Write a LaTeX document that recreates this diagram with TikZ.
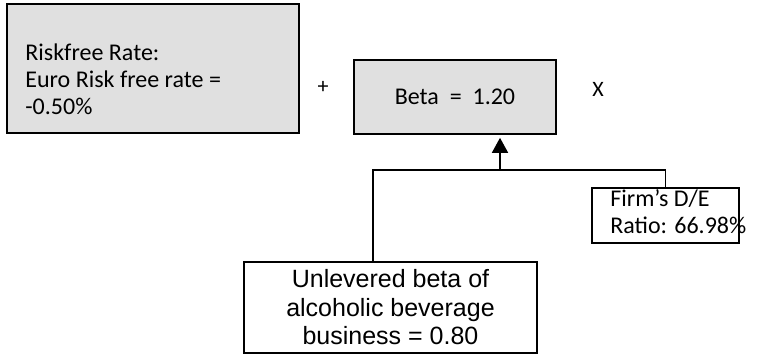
\documentclass[tikz,border=0pt]{standalone}
\usepackage{fontspec}
\setmainfont{Carlito}
\newfontfamily\arialfont{Liberation Sans}
\usetikzlibrary{arrows.meta}
\usetikzlibrary{positioning}
\definecolor{boxgray}{RGB}{224,224,224}
\tikzset{greybox/.style = {draw, fill=boxgray, line width=1.6pt, inner sep=0pt},
         whitebox/.style = {draw, fill=white, line width=1.6pt, inner sep=0pt},
         calibritext/.style = {font=\fontsize{24}{27}\selectfont, align=left, inner sep=0pt},
         optext/.style = {font=\fontsize{22}{24}\selectfont, inner sep=0pt},
         link/.style = {line width=1.5pt}}

\begin{document}
\begin{tikzpicture}[x=1pt, y=-1pt]
      \useasboundingbox (0, 0) rectangle (761, 361);

      \node [greybox, minimum width=292pt, minimum height=129pt] (riskfree) at (153, 68.5) {};
      \node [calibritext, anchor=west] (riskfreetext) at ([xshift=19pt, yshift=-10.5pt]riskfree.west)
            {Riskfree Rate:\\Euro Risk free rate =\\-0.50\%};

      \node [greybox, minimum width=202pt, minimum height=74pt, font=\fontsize{24}{27}\selectfont] (beta) at (455, 97) {Beta~~=~~1.20};
      \node [optext] (plus) at (323, 87) {+};
      \node [optext] (times) at (598, 89) {X};

      \coordinate (split) at (373, 170);
      \coordinate (stem) at (500, 170);

      \node [whitebox, minimum width=147pt, minimum height=55pt] (firmde) at (665.5, 215.5) {};
      \node [calibritext, anchor=west] (firmdetext) at ([xshift=19pt, yshift=4pt]firmde.west)
            {Firm's D/E\\Ratio: 66.98\%};

      \node [whitebox, minimum width=293pt, minimum height=91pt, align=center,
             font=\arialfont\fontsize{25}{28.5}\selectfont] (unlevered) at (390.5, 307.5)
            {Unlevered beta of\\alcoholic beverage\\business = 0.80};

      \draw [link] (unlevered.north -| split) -- (split) -| (firmde.north);
      \draw [link, -{Triangle[width=16pt, length=15pt]}, shorten >=3pt] (stem) -- (stem |- beta.south);
\end{tikzpicture}
\end{document}
